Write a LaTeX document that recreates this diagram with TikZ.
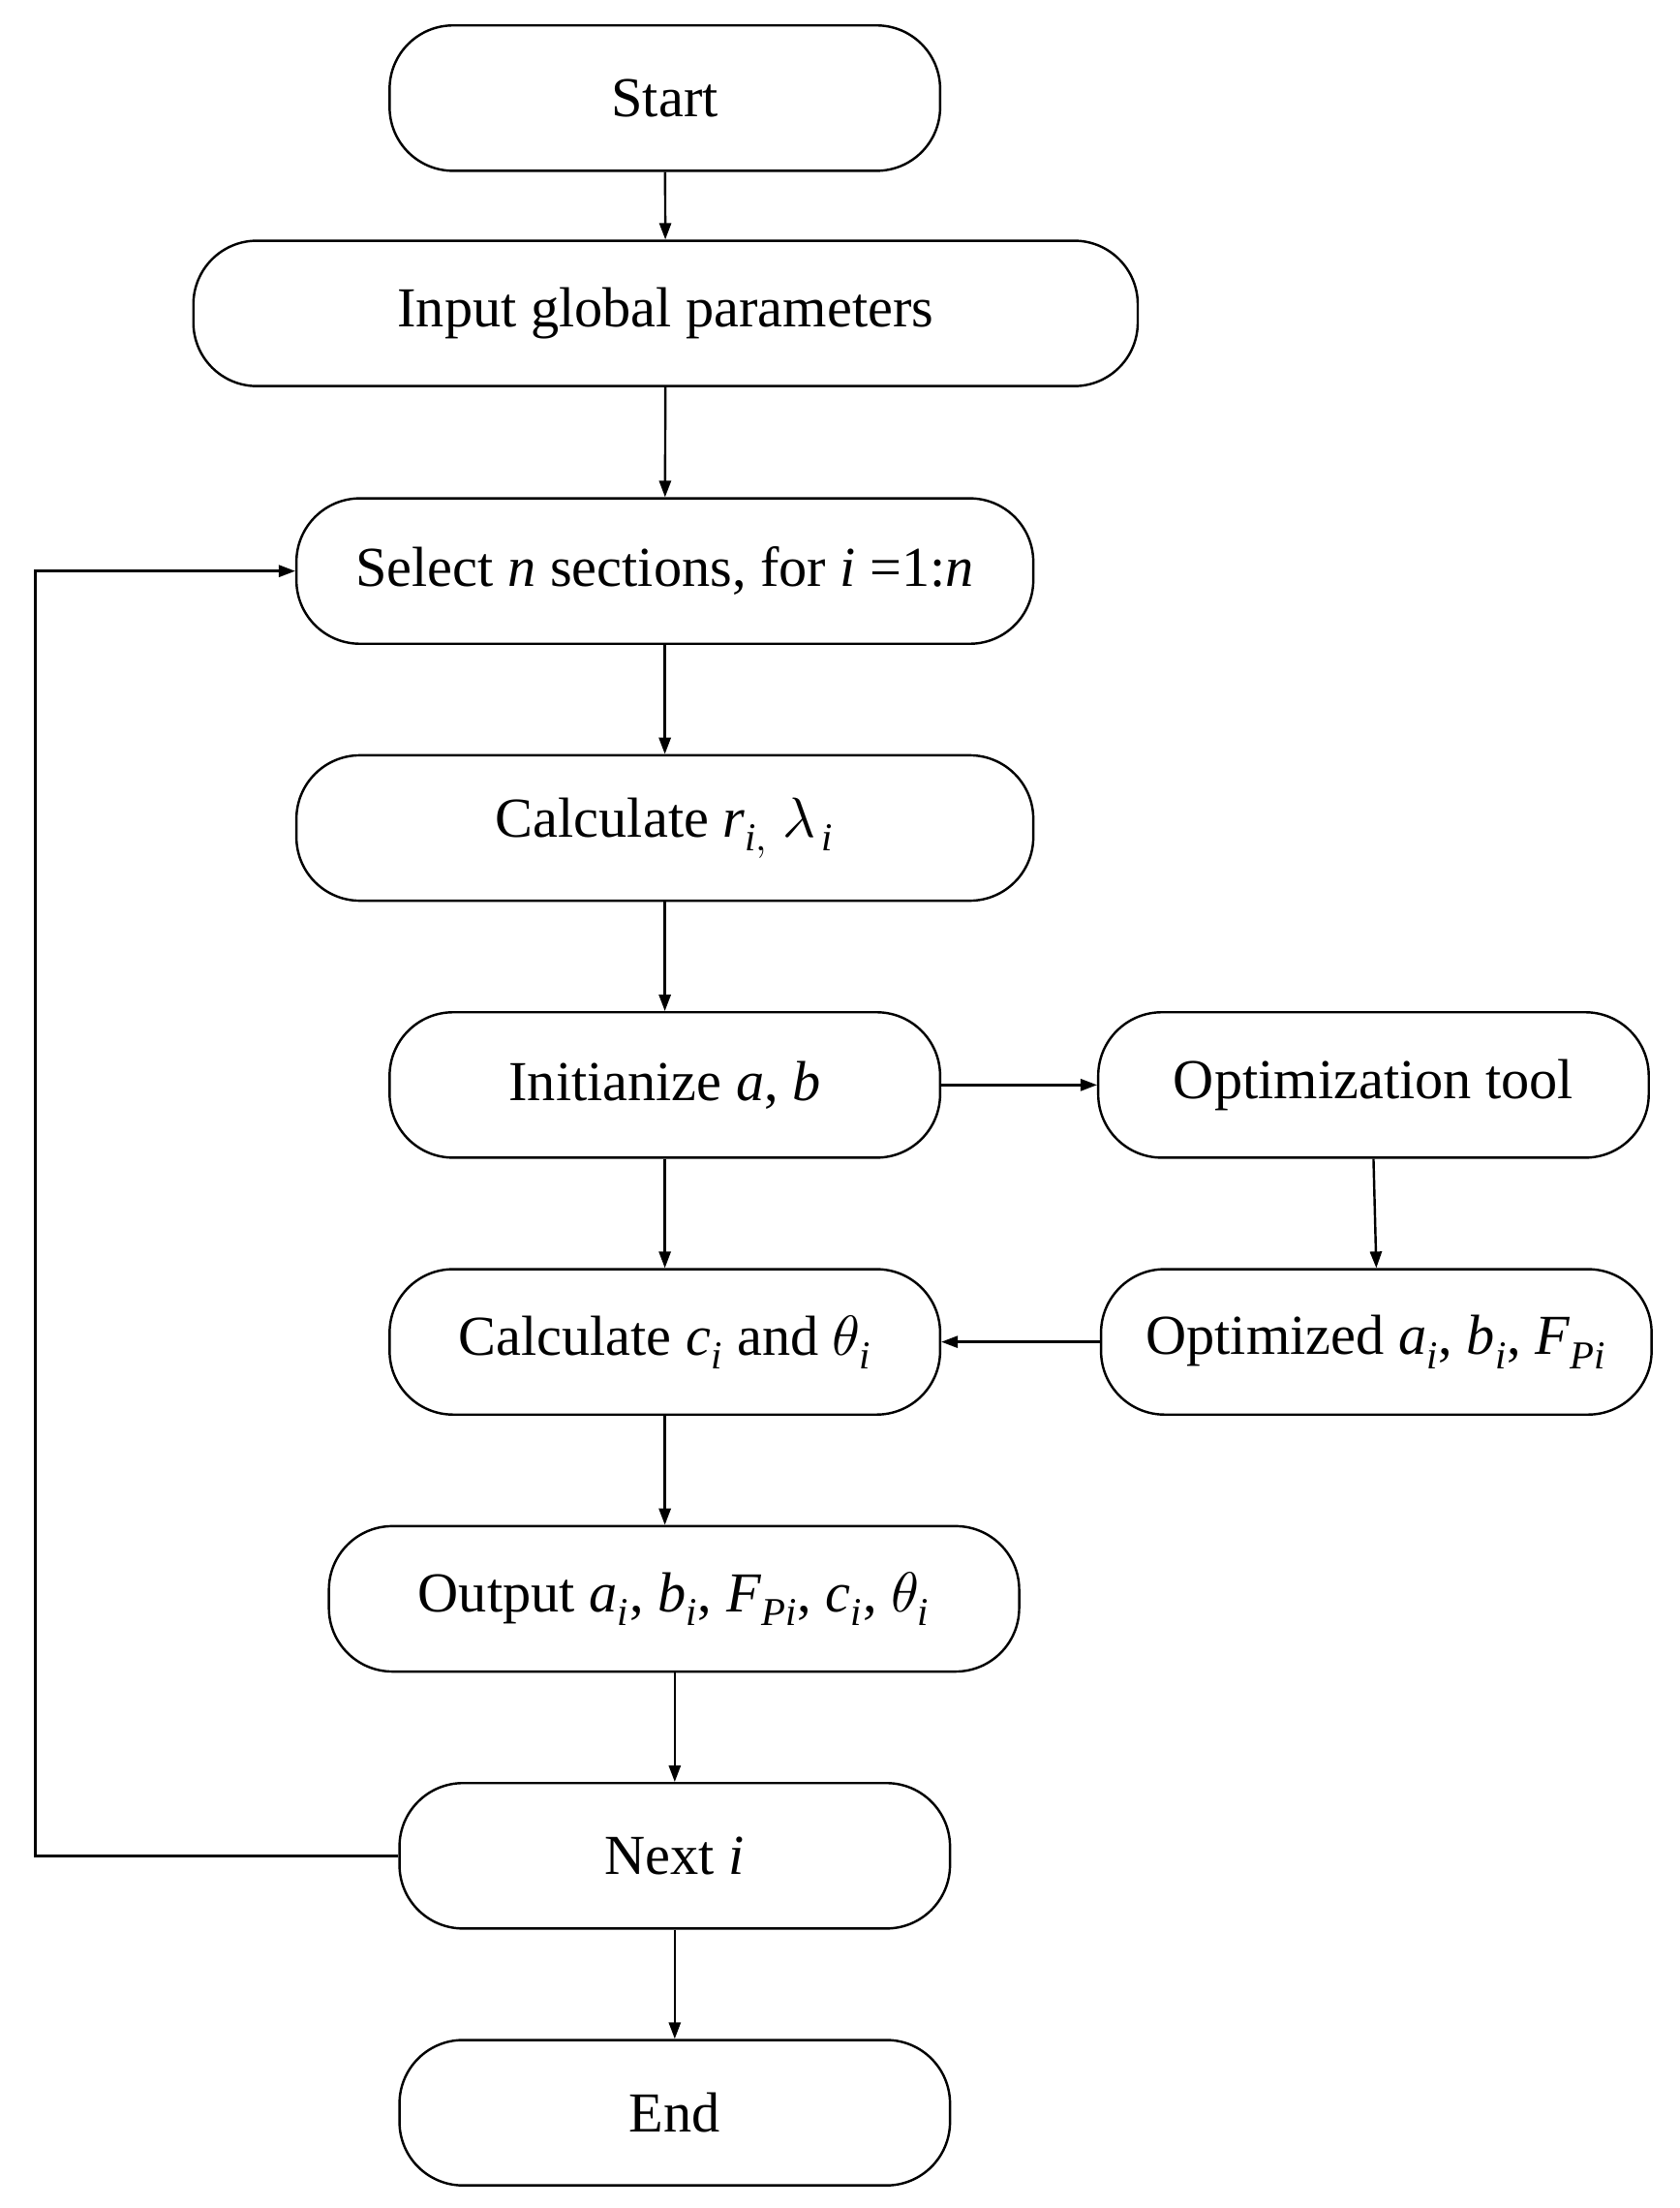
\documentclass[tikz,border=0pt]{standalone}
\usepackage{fontspec}
\setmainfont{Liberation Serif}
\usepackage{unicode-math}
\setmathfont{Latin Modern Math}
\usetikzlibrary{arrows.meta}
\begin{document}
\begin{tikzpicture}[x=0.6pt,y=-0.6pt,
  box/.style={draw,line width=1pt,rounded corners=27pt,inner sep=0pt,font=\fontsize{24}{28}\selectfont},
  arr/.style={-{Triangle[length=7pt,width=5pt]},line width=1pt}]
\useasboundingbox (0,0) rectangle (1190,1564);
\newcommand{\bx}[6]{\node[box,minimum width=#4*0.6pt,minimum height=#5*0.6pt] (#1) at (#2,#3) {#6};}
\bx{start}{471}{69.5}{390}{103}{Start}
\bx{input}{471.5}{222}{669}{103}{Input global parameters}
\bx{sel}{471}{404.5}{522}{103}{Select \textit{n} sections, for \textit{i} =1:\textit{n}}
\bx{calr}{471}{586.5}{522}{103}{Calculate \textit{r}$_{\textit{i},}$ $\symit{\lambda}_{\,\textit{i}}$}
\bx{init}{471}{768.5}{390}{103}{Initianize \textit{a}, \textit{b}}
\bx{opt}{973}{768.5}{390}{103}{Optimization tool}
\bx{calc}{471}{950.5}{390}{103}{Calculate \textit{c}$_{\textit{i}}$ and $\symit{\theta}_{\textit{i}}$}
\bx{optd}{975}{950.5}{390}{103}{Optimized \textit{a}$_{\textit{i}}$, \textit{b}$_{\textit{i}}$, \textit{F}$_{\textit{Pi}}$}
\bx{out}{477.5}{1132.5}{489}{103}{Output \textit{a}$_{\textit{i}}$, \textit{b}$_{\textit{i}}$, \textit{F}$_{\textit{Pi}}$, \textit{c}$_{\textit{i}}$, $\symit{\theta}_{\textit{i}}$}
\bx{next}{478}{1314.5}{390}{103}{Next \textit{i}}
\bx{end}{478}{1496.5}{390}{103}{End}
\draw[arr] (start) -- (input);
\draw[arr] (input) -- (sel);
\draw[arr] (sel) -- (calr);
\draw[arr] (calr) -- (init);
\draw[arr] (init) -- (calc);
\draw[arr] (init) -- (opt);
\draw[arr] (opt.south) -- (optd.north);
\draw[arr] (optd) -- (calc);
\draw[arr] (calc) -- (calc|-out.north);
\draw[arr] (out.south-|next) -- (next);
\draw[arr] (next) -- (end);
\coordinate (c1) at (25,1314.5);
\coordinate (c2) at (25,404.5);
\draw[arr] (next.west) -- (c1) -- (c2) -- (sel.west);
\end{tikzpicture}
\end{document}
